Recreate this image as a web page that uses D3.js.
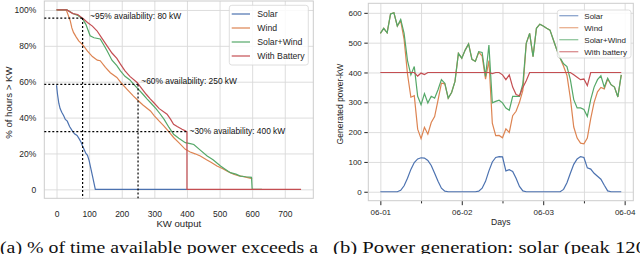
<!DOCTYPE html>
<html>
<head>
<meta charset="utf-8">
<script src="https://cdn.jsdelivr.net/npm/d3@7"></script>
<style>
  body { margin: 0; background: #fff; }
  svg { display: block; font-family: "Liberation Sans", Arial, sans-serif; }
</style>
</head>
<body>
<div id="chart-area"></div>
<script>
/* ---- data: left panel (duration curves) ---- */
const solarKW  = [0, 3, 7, 11, 16, 22, 27, 33, 40, 47, 55, 63, 70, 76, 80, 85, 90, 95, 100, 106, 112, 119, 400]
const solarPct = [58, 53, 48, 45, 43, 41, 39, 38, 35, 33, 31, 30, 28, 26, 24, 22, 20, 19, 16, 11, 6, 0, 0]

const windKW  = [0, 30, 36, 42, 47, 52, 60, 68, 75, 83, 95, 110, 125, 134, 150, 165, 185, 200, 215, 236, 250, 265, 288, 300, 315, 329, 345, 359, 375, 395, 410, 425, 441, 460, 475, 492, 510, 525, 543, 560, 574, 590, 600]
const windPct = [100, 100, 97, 94, 90, 87.5, 85, 82.8, 81.5, 80, 77, 74, 72, 71.7, 68, 65, 62.4, 59, 56, 52, 49.5, 47, 43.7, 41, 38, 35.4, 32, 28.9, 26, 22.3, 20.8, 19.8, 18.6, 16.5, 15, 13, 11.5, 10, 8.4, 7.5, 7.1, 6.4, 6]

const comboKW  = [0, 32, 50, 65, 80, 90, 103, 115, 134, 145, 155, 170, 185, 196, 210, 225, 236, 250, 265, 278, 290, 305, 318, 330, 345, 359, 375, 395, 410, 421, 440, 462, 480, 503, 515, 533, 550, 564, 580, 598, 600, 630]
const comboPct = [100, 100, 98, 97, 95, 92, 85.6, 84.5, 83.8, 80.5, 77.3, 72, 69, 66, 63, 61, 58.7, 56, 53, 50.3, 48, 45, 42, 39, 34.5, 30.7, 28.5, 26, 25.5, 25, 22, 18.6, 16.5, 13, 11.5, 9.3, 8.5, 7.4, 7, 6.7, 0, 0]

const batteryKW  = [0, 32, 50, 65, 83, 95, 110, 124, 140, 155, 170, 185, 196, 210, 225, 247, 262, 275, 288, 300, 315, 339, 350, 359, 370, 385, 395, 400, 400, 750]
const batteryPct = [100, 100, 98, 97.5, 95, 93, 91, 88.4, 84, 80, 76, 73, 69.8, 66, 63, 59.6, 56, 53, 50.3, 48, 45, 41.9, 39, 36.3, 35, 33.5, 32.6, 32, 0, 0]

const leftSeries = ['Solar', 'Wind', 'Solar+Wind', 'With Battery']

const markKW       = [80, 250, 400]
const markPct      = [95.5, 58.5, 32.2]
const markVertical = [true, true, false]
const markLabels   = ['~95% availability: 80 kW', '~60% availability: 250 kW', '~30% availability: 400 kW']
const markLabelKW  = [103, 260, 408]
const markLabelPct = [96.6, 60.5, 32.6]

const kwTicks  = [0, 100, 200, 300, 400, 500, 600, 700]
const pctTicks = [0, 20, 40, 60, 80, 100]

/* ---- data: right panel (hourly generation, 06-01 00:00 .. 06-03 23:00) ---- */
const hourSolar = [0, 0, 0, 0, 0, 0, 5, 20, 45, 75, 98, 110, 114, 113, 105, 88, 62, 35, 12, 2, 0, 0, 0, 0,
  0, 0, 0, 0, 0, 2, 12, 35, 70, 100, 115, 118, 117, 70, 74, 68, 45, 18, 3, 0, 0, 0, 0, 0,
  0, 0, 0, 0, 0, 0, 8, 30, 62, 92, 110, 118, 115, 80, 76, 62, 52, 42, 22, 3, 0, 0, 0, 0]
const hourWind = [531, 548, 533, 596, 600, 556, 573, 511, 395, 317, 322, 210, 178, 216, 193, 232, 252, 307, 364, 362, 314, 333, 370, 464,
  448, 475, 496, 444, 437, 468, 455, 378, 440, 230, 188, 189, 181, 211, 199, 255, 270, 300, 340, 498,
  531, 453, 548, 562, 556, 548, 542, 509, 476, 448, 421, 390, 314, 217, 180, 163, 161, 180, 245, 300, 335, 350, 345, 378, 359, 351, 318, 392]
const hourCombo = [531, 548, 533, 596, 600, 556, 578, 531, 440, 392, 420, 320, 292, 329, 298, 320, 314, 342, 376, 364, 314, 333, 370, 464,
  448, 475, 496, 444, 437, 470, 467, 387, 492, 298, 303, 307, 298, 281, 273, 320, 320, 320, 362, 498,
  531, 453, 548, 562, 556, 548, 542, 509, 476, 448, 429, 420, 376, 309, 281, 281, 276, 253, 309, 351, 376, 389, 351, 381, 359, 351, 318, 392]
const hourBattery = [400, 400, 400, 400, 400, 400, 400, 400, 400, 400, 400, 388, 398, 393, 400, 400, 400, 400, 400, 400, 400, 400, 400, 400,
  400, 400, 400, 400, 400, 400, 400, 400, 400, 396, 400, 400, 392, 376, 392, 351, 326, 322, 350, 372,
  400, 400, 400, 400, 400, 400, 400, 400, 400, 400, 400, 400, 400, 392, 384, 376, 378, 356, 400, 400, 400, 400, 400, 400, 400, 400, 400, 400]

const rightSeries = ['Solar', 'Wind', 'Solar+Wind', 'With battery']
const powerTicks = [0, 100, 200, 300, 400, 500, 600]
const dayTicks = ['2019-06-01', '2019-06-02', '2019-06-03', '2019-06-04']

const captionA = '(a) % of time available power exceeds a'
const captionB = '(b) Power generation: solar (peak 120'

const colors = ['#4c72b0', '#dd8452', '#55a868', '#c44e52']
const gridColor = '#d9d9d9'
const textColor = '#262626'

/* ---- canvas ---- */
const CANVAS_WIDTH = 640
const CANVAS_HEIGHT = 254

const $svg = d3.select('#chart-area')
  .append('svg')
  .attr('width', CANVAS_WIDTH)
  .attr('height', CANVAS_HEIGHT)

/* ================= LEFT PANEL ================= */
const L = { left: 44.3, right: 313.3, top: 1, bottom: 198.3 }

const xKW = d3.scaleLinear().domain([-37.5, 787.5]).range([L.left, L.right])
const yPct = d3.scaleLinear().domain([-5, 105]).range([L.bottom, L.top])

const $left = $svg.append('g')

// grid
$left.append('g')
  .attr('transform', `translate(0, ${L.bottom})`)
  .call(d3.axisBottom(xKW).tickValues(kwTicks).tickSize(-(L.bottom - L.top)).tickFormat(''))
  .call(g => g.select('.domain').remove())
  .call(g => g.selectAll('line').attr('stroke', gridColor).attr('stroke-width', 0.9))
$left.append('g')
  .attr('transform', `translate(${L.left}, 0)`)
  .call(d3.axisLeft(yPct).tickValues(pctTicks).tickSize(-(L.right - L.left)).tickFormat(''))
  .call(g => g.select('.domain').remove())
  .call(g => g.selectAll('line').attr('stroke', gridColor).attr('stroke-width', 0.9))

// frame
$left.append('rect')
  .attr('x', L.left).attr('y', L.top)
  .attr('width', L.right - L.left).attr('height', L.bottom - L.top)
  .attr('fill', 'none').attr('stroke', '#cccccc').attr('stroke-width', 1)

// tick labels
const $xAxisL = $left.append('g')
  .attr('transform', `translate(0, ${L.bottom})`)
  .call(d3.axisBottom(xKW).tickValues(kwTicks).tickSize(0).tickPadding(12.5))
$xAxisL.select('.domain').remove()
$xAxisL.selectAll('text').attr('font-size', 8.5).attr('fill', textColor).attr('font-family', 'Liberation Sans')

const $yAxisL = $left.append('g')
  .attr('transform', `translate(${L.left}, 0)`)
  .call(d3.axisLeft(yPct).tickValues(pctTicks).tickSize(0).tickPadding(8)
    .tickFormat(d => d === 0 ? '0' : d + '%'))
$yAxisL.select('.domain').remove()
$yAxisL.selectAll('text').attr('font-size', 8.5).attr('fill', textColor).attr('font-family', 'Liberation Sans')

// axis labels
$left.append('text')
  .attr('x', (L.left + L.right) / 2).attr('y', 226.5)
  .attr('text-anchor', 'middle').attr('font-size', 9.6).attr('fill', textColor)
  .text('KW output')
$left.append('text')
  .attr('transform', `translate(11.5, ${(L.top + L.bottom) / 2 + 3}) rotate(-90)`)
  .attr('text-anchor', 'middle').attr('font-size', 9.6).attr('fill', textColor)
  .text('% of hours > KW')

// curves
const leftData = [
  d3.zip(solarKW, solarPct),
  d3.zip(windKW, windPct),
  d3.zip(comboKW, comboPct),
  d3.zip(batteryKW, batteryPct)
]
const lineL = d3.line().x(d => xKW(d[0])).y(d => yPct(d[1]))
$left.append('g').selectAll('path')
  .data(leftData)
  .enter()
  .append('path')
  .attr('d', lineL)
  .attr('fill', 'none')
  .attr('stroke', (d, i) => colors[i])
  .attr('stroke-width', 1.2)

// availability markers
markKW.forEach((kw, i) => {
  const $m = $left.append('g')
    .attr('stroke', '#000').attr('stroke-width', 1.2).attr('stroke-dasharray', '2,2')
  $m.append('line')
    .attr('x1', L.left).attr('x2', xKW(kw))
    .attr('y1', yPct(markPct[i])).attr('y2', yPct(markPct[i]))
  if (markVertical[i]) {
    $m.append('line')
      .attr('x1', xKW(kw)).attr('x2', xKW(kw))
      .attr('y1', yPct(markPct[i])).attr('y2', L.bottom)
  }
  $left.append('text')
    .attr('x', xKW(markLabelKW[i])).attr('y', yPct(markLabelPct[i]) + 3)
    .attr('font-size', 8.4).attr('fill', '#111')
    .text(markLabels[i])
})

// legend
const $legL = $left.append('g')
$legL.append('rect')
  .attr('x', 229.3).attr('y', 5.3).attr('width', 79).attr('height', 59.7)
  .attr('rx', 2.5).attr('fill', '#fff').attr('fill-opacity', 0.85)
  .attr('stroke', '#d6d6d6').attr('stroke-width', 0.8)
leftSeries.forEach((name, i) => {
  const y = 14 + i * 14
  $legL.append('line')
    .attr('x1', 231.7).attr('x2', 250).attr('y1', y).attr('y2', y)
    .attr('stroke', colors[i]).attr('stroke-width', 1.2)
  $legL.append('text')
    .attr('x', 257.3).attr('y', y + 3.1)
    .attr('font-size', 8.7).attr('fill', textColor)
    .text(name)
})

/* ================= RIGHT PANEL ================= */
const R = { left: 368.3, right: 633.3, top: 3.3, bottom: 200.7 }
const parseDay = d3.utcParse('%Y-%m-%d')
const t0 = parseDay(dayTicks[0])
const hourMs = 3600 * 1000
const hours = d3.range(hourCombo.length).map(h => new Date(t0.getTime() + h * hourMs))

const xTime = d3.scaleUtc()
  .domain([new Date(t0.getTime() - 3.55 * hourMs), new Date(t0.getTime() + 74.55 * hourMs)])
  .range([R.left, R.right])
const yPow = d3.scaleLinear().domain([-30, 632]).range([R.bottom, R.top])

const dayDates = dayTicks.map(parseDay)
const halfDayDates = dayDates.slice(0, 3).map(d => new Date(d.getTime() + 12 * hourMs))
const gridDates = dayDates.concat(halfDayDates)

const $right = $svg.append('g')

// grid
$right.append('g')
  .attr('transform', `translate(0, ${R.bottom})`)
  .call(d3.axisBottom(xTime).tickValues(gridDates).tickSize(-(R.bottom - R.top)).tickFormat(''))
  .call(g => g.select('.domain').remove())
  .call(g => g.selectAll('line').attr('stroke', gridColor).attr('stroke-width', 0.9))
$right.append('g')
  .attr('transform', `translate(${R.left}, 0)`)
  .call(d3.axisLeft(yPow).tickValues(powerTicks).tickSize(-(R.right - R.left)).tickFormat(''))
  .call(g => g.select('.domain').remove())
  .call(g => g.selectAll('line').attr('stroke', gridColor).attr('stroke-width', 0.9))

// frame
$right.append('rect')
  .attr('x', R.left).attr('y', R.top)
  .attr('width', R.right - R.left).attr('height', R.bottom - R.top)
  .attr('fill', 'none').attr('stroke', '#cccccc').attr('stroke-width', 1)

// axes with tick marks
const $xAxisR = $right.append('g')
  .attr('transform', `translate(0, ${R.bottom + 0.5})`)
  .call(d3.axisBottom(xTime).tickValues(dayDates).tickSize(4).tickPadding(4)
    .tickFormat(d3.utcFormat('%m-%d')))
$xAxisR.select('.domain').remove()
$xAxisR.selectAll('line').attr('stroke', textColor).attr('stroke-width', 1)
$xAxisR.selectAll('text').attr('font-size', 8).attr('fill', textColor).attr('font-family', 'Liberation Sans')

const $xMinorR = $right.append('g')
  .attr('transform', `translate(0, ${R.bottom + 0.5})`)
  .call(d3.axisBottom(xTime).tickValues(halfDayDates).tickSize(2.2).tickFormat(''))
$xMinorR.select('.domain').remove()
$xMinorR.selectAll('line').attr('stroke', textColor).attr('stroke-width', 1)

const $yAxisR = $right.append('g')
  .attr('transform', `translate(${R.left - 0.5}, 0)`)
  .call(d3.axisLeft(yPow).tickValues(powerTicks).tickSize(3.5).tickPadding(2.5))
$yAxisR.select('.domain').remove()
$yAxisR.selectAll('line').attr('stroke', textColor).attr('stroke-width', 1)
$yAxisR.selectAll('text').attr('font-size', 8).attr('fill', textColor).attr('font-family', 'Liberation Sans')

// axis labels
$right.append('text')
  .attr('x', (R.left + R.right) / 2).attr('y', 225)
  .attr('text-anchor', 'middle').attr('font-size', 8.6).attr('fill', textColor)
  .text('Days')
$right.append('text')
  .attr('transform', `translate(343, ${(R.top + R.bottom) / 2 + 2}) rotate(-90)`)
  .attr('text-anchor', 'middle').attr('font-size', 8.5).attr('fill', textColor)
  .text('Generated power-kW')

// curves
const rightData = [hourSolar, hourWind, hourCombo, hourBattery]
const lineR = d3.line().x((d, i) => xTime(hours[i])).y(d => yPow(d))
$right.append('g').selectAll('path')
  .data(rightData)
  .enter()
  .append('path')
  .attr('d', lineR)
  .attr('fill', 'none')
  .attr('stroke', (d, i) => colors[i])
  .attr('stroke-width', 1.2)

// legend
const $legR = $right.append('g')
$legR.append('rect')
  .attr('x', 557.3).attr('y', 10).attr('width', 73.7).attr('height', 48)
  .attr('rx', 2.5).attr('fill', '#fff').attr('fill-opacity', 0.85)
  .attr('stroke', '#d6d6d6').attr('stroke-width', 0.8)
rightSeries.forEach((name, i) => {
  const y = 15.7 + i * 12
  $legR.append('line')
    .attr('x1', 559.3).attr('x2', 578.3).attr('y1', y).attr('y2', y)
    .attr('stroke', colors[i]).attr('stroke-opacity', 0.65).attr('stroke-width', 1.3)
  $legR.append('text')
    .attr('x', 584.3).attr('y', y + 3)
    .attr('font-size', 8).attr('fill', textColor)
    .text(name)
})

/* ================= captions ================= */
$svg.append('text')
  .attr('x', 0).attr('y', 252.5)
  .attr('font-family', '"Liberation Serif", "DejaVu Serif", serif')
  .attr('font-size', 16).attr('fill', '#111')
  .attr('textLength', 318).attr('lengthAdjust', 'spacingAndGlyphs')
  .text(captionA)
$svg.append('text')
  .attr('x', 333).attr('y', 252.5)
  .attr('font-family', '"Liberation Serif", "DejaVu Serif", serif')
  .attr('font-size', 16).attr('fill', '#111')
  .attr('textLength', 313).attr('lengthAdjust', 'spacingAndGlyphs')
  .text(captionB)
</script>
</body>
</html>
